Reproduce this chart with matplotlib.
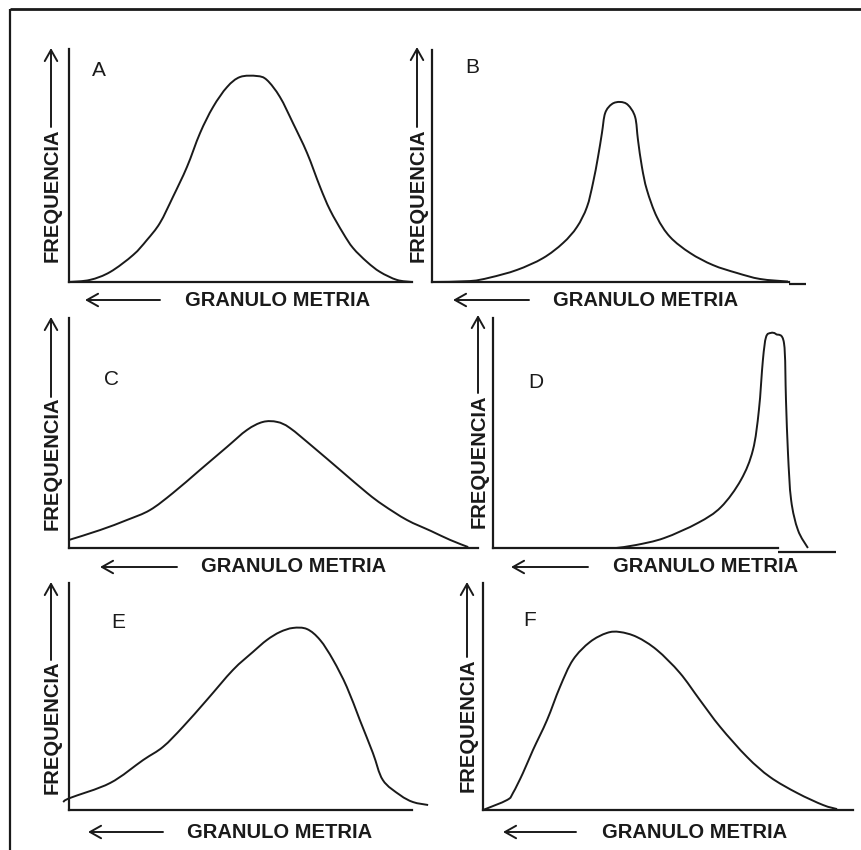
import numpy as np
import matplotlib
matplotlib.use("Agg")
import matplotlib.pyplot as plt
from matplotlib.path import Path
from matplotlib.patches import PathPatch

W_PX, H_PX, DPI = 862, 850, 100

panel_names = ["A", "B", "C", "D", "E", "F"]
x_label = "GRANULO METRIA"
y_label = "FREQUENCIA"

# Frequency curves: granulometry along the axis (0-100) vs frequency (0-100 of axis height)
a_x = [0, 6.1, 12.0, 18.7, 22.7, 26.5, 30.3, 34.4, 38.2, 42.0, 46.1, 49.9, 54.8, 57.7,
       61.5, 65.3, 69.4, 73.2, 76.1, 79.9, 82.8, 86.9, 90.7, 95.6, 100]
a_y = [0, 0.9, 4.3, 11.6, 18.0, 25.3, 36.5, 49.4, 63.9, 75.1, 83.7, 88.0, 88.4, 86.7,
       79.4, 68.2, 55.4, 40.8, 30.9, 21.0, 14.6, 8.6, 4.3, 0.9, 0]

b_x = [0, 10.6, 16.2, 23.8, 31.1, 36.7, 40.6, 43.4, 45.1, 46.5, 47.6, 48.5, 50.4, 52.7,
       54.9, 56.9, 57.7, 58.8, 60.2, 63.0, 66.7, 72.3, 78.7, 85.4, 91.9, 99.7]
b_y = [0, 0.4, 1.9, 5.2, 10.3, 16.8, 23.7, 32.3, 42.7, 53.9, 64.2, 72.8, 76.7, 77.6,
       76.3, 71.1, 61.2, 49.6, 39.7, 28.0, 19.4, 12.5, 7.3, 3.9, 1.3, 0.2]

c_x = [0, 7.6, 14.2, 19.8, 25.4, 32.0, 38.6, 43.5, 47.4, 50.9, 54.0, 59.7, 66.3, 72.9,
       76.8, 82.6, 88.5, 93.2, 97.6]
c_y = [3.5, 7.8, 12.2, 16.5, 23.9, 33.9, 43.9, 51.3, 54.8, 54.8, 52.2, 43.9, 33.9, 23.9,
       18.7, 12.2, 7.4, 3.5, 0.4]

d_x = [43.2, 50.2, 60.0, 71.9, 80.0, 87.0, 91.2, 93.3, 94.7, 95.8, 97.5, 99.3, 102.1,
       102.8, 103.5, 104.6, 107.0, 110.5]
d_y = [0, 1.3, 4.3, 10.9, 17.8, 29.6, 42.6, 60.0, 81.7, 91.7, 93.5, 93.0, 89.1,
       64.3, 41.3, 20.9, 7.8, 0]

e_x = [-1.7, 0.3, 12.0, 21.6, 27.4, 33.2, 40.2, 47.8, 53.6, 57.7, 61.5, 65.3, 69.4, 73.2,
       77.0, 81.0, 84.8, 88.6, 91.5, 96.5, 100.3, 104.7]
e_y = [3.5, 5.3, 11.9, 22.0, 27.8, 36.6, 48.5, 61.7, 69.6, 74.9, 78.4, 80.2, 79.7, 74.9,
       66.1, 54.2, 39.6, 25.1, 13.2, 6.6, 3.5, 2.2]

f_x = [0, 6.5, 8.1, 10.8, 13.5, 17.3, 20.8, 24.3, 28.9, 33.5, 37.0, 41.6, 47.0, 53.2,
       58.6, 64.1, 71.4, 77.6, 84.9, 91.9, 95.7]
f_y = [0, 4.4, 7.5, 16.3, 26.4, 39.6, 54.2, 66.1, 74.0, 78.0, 78.4, 76.2, 70.5, 60.4,
       48.5, 36.6, 23.3, 14.5, 7.5, 2.2, 0.4]

curves_x = [a_x, b_x, c_x, d_x, e_x, f_x]
curves_y = [a_y, b_y, c_y, d_y, e_y, f_y]

# Panel boxes in pixels (left, right, top, bottom of the axis lines)
panel_left = [69, 432, 69, 493, 69, 483]
panel_right = [412, 789, 478, 778, 412, 853]
panel_top = [49, 50, 318, 318, 583, 583]
panel_bottom = [282, 282, 548, 548, 810, 810]

# Lowered baseline continuation after the axis end (B and D)
step_end = [None, 104.8, None, 120.4, None, None]
step_y = [None, -0.9, None, -1.7, None, None]

# Letter positions
letter_x = [99, 472, 112, 536, 118, 530]
letter_y = [70, 67, 379, 382, 623, 620]

# Vertical "FREQUENCIA" label: x, text bottom, text top, arrow tip
freq_x = [52, 418, 52, 479, 52, 468]
freq_bottom = [263, 263, 530, 530, 795, 793]
freq_top = [127, 127, 397, 393, 660, 657]
freq_tip = [48, 47, 317, 315, 582, 582]

# Horizontal "GRANULO METRIA" label: text centre, y, arrow tail and head
gran_cx = [278, 646, 294, 706, 280, 695]
gran_y = [300, 300, 567, 567, 832, 832]
gran_tail = [160, 529, 177, 588, 163, 576]
gran_head = [85, 453, 100, 511, 88, 503]

INK = "#1a1a1a"
FONT = ["Liberation Sans", "DejaVu Sans"]


def smooth_path(x, y):
    """Catmull-Rom curve through the points, expressed as cubic Bezier segments."""
    pts = np.column_stack([x, y]).astype(float)
    n = len(pts)
    verts = [pts[0]]
    codes = [Path.MOVETO]
    for i in range(n - 1):
        p0 = pts[i - 1] if i > 0 else pts[i]
        p1 = pts[i]
        p2 = pts[i + 1]
        p3 = pts[i + 2] if i + 2 < n else pts[i + 1]
        verts += [p1 + (p2 - p0) / 6.0, p2 - (p3 - p1) / 6.0, p2]
        codes += [Path.CURVE4] * 3
    return Path(verts, codes)


fig = plt.figure(figsize=(W_PX / DPI, H_PX / DPI), dpi=DPI)
fig.patch.set_facecolor("white")

for i in range(6):
    l, r, t, b = panel_left[i], panel_right[i], panel_top[i], panel_bottom[i]
    ax = fig.add_axes([l / W_PX, 1 - b / H_PX, (r - l) / W_PX, (b - t) / H_PX])
    ax.set_xlim(0, 100)
    ax.set_ylim(0, 100)
    ax.set_xticks([])
    ax.set_yticks([])
    ax.patch.set_alpha(0)
    for side in ("top", "right"):
        ax.spines[side].set_visible(False)
    for side in ("left", "bottom"):
        ax.spines[side].set_linewidth(1.6)
        ax.spines[side].set_color(INK)
    if step_end[i] is not None:
        ax.plot([100, step_end[i]], [step_y[i], step_y[i]], color=INK, lw=1.6,
                clip_on=False, solid_capstyle="butt")
    patch = PathPatch(smooth_path(curves_x[i], curves_y[i]), facecolor="none",
                      edgecolor=INK, lw=1.4, clip_on=False)
    ax.add_patch(patch)

# Overlay in pixel coordinates for the frame, labels and arrows
ov = fig.add_axes([0, 0, 1, 1])
ov.set_xlim(0, W_PX)
ov.set_ylim(H_PX, 0)
ov.axis("off")
ov.patch.set_alpha(0)

ov.plot([10, 10], [9, H_PX], color=INK, lw=1.6, solid_capstyle="butt")
ov.plot([10, W_PX], [9, 9], color=INK, lw=2.0, solid_capstyle="butt")

arrow_style = dict(arrowstyle="->,head_length=0.8,head_width=0.45", color=INK, lw=1.4,
                   shrinkA=0, shrinkB=0)

for i in range(6):
    ov.text(letter_x[i], letter_y[i], panel_names[i], fontsize=15, family=FONT,
            color=INK, ha="center", va="center")
    ov.text(freq_x[i], (freq_bottom[i] + freq_top[i]) / 2, y_label, rotation=90,
            fontsize=14.5, fontweight="bold", family=FONT, color=INK,
            ha="center", va="center")
    ov.annotate("", xy=(freq_x[i] - 1, freq_tip[i]), xytext=(freq_x[i] - 1, freq_top[i]),
                arrowprops=arrow_style)
    ov.text(gran_cx[i], gran_y[i], x_label, fontsize=14.5, fontweight="bold",
            family=FONT, color=INK, ha="center", va="center")
    ov.annotate("", xy=(gran_head[i], gran_y[i]), xytext=(gran_tail[i], gran_y[i]),
                arrowprops=arrow_style)

fig.savefig("out.png", dpi=DPI, facecolor="white")
